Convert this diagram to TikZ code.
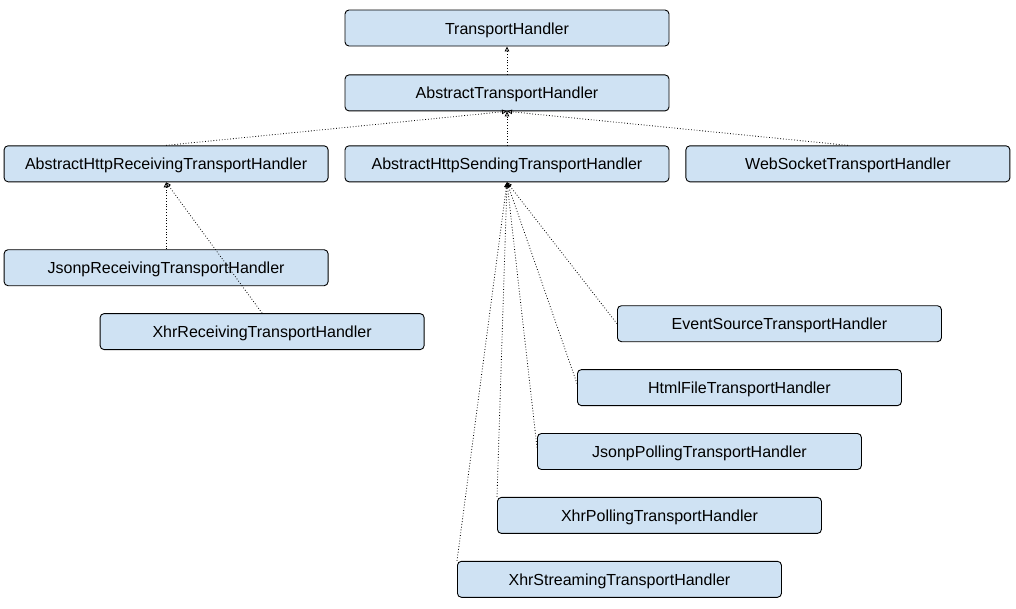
\documentclass[tikz,border=0pt]{standalone}
\usepackage{fontspec}
\setmainfont{Liberation Sans}
\usetikzlibrary{arrows.meta,positioning}

\definecolor{boxblue}{HTML}{CFE2F3}

\begin{document}
\begin{tikzpicture}[
  x=1pt, y=1pt,
  node distance=28pt and 16pt,
  cls/.style={draw, fill=boxblue, rounded corners=4pt, line width=0.9pt,
    minimum width=324pt, minimum height=36pt, text height=14pt, text depth=2pt,
    font=\fontsize{16}{18}\selectfont},
  inh/.style={-{Triangle[open,length=5pt,width=4.5pt]}, dotted, line width=0.8pt}
]
\useasboundingbox (0,0) rectangle (1016,-608);
\node[cls] (th) at (507,-28) {TransportHandler};
\node[cls, below=of th] (ath) {AbstractTransportHandler};
\node[cls, below=34pt of ath] (send) {AbstractHttpSendingTransportHandler};
\node[cls, left=of send] (recv) {AbstractHttpReceivingTransportHandler};
\node[cls, right=of send] (ws) {WebSocketTransportHandler};
% receiving side
\node[cls, below=67pt of recv] (jrecv) {JsonpReceivingTransportHandler};
\node[cls, below=27pt of jrecv.south west, anchor=north west, xshift=96pt] (xrecv) {XhrReceivingTransportHandler};
% sending side, stepping down to the left
\node[cls, below=123pt of send.south, anchor=north west, xshift=110pt] (evsrc) {EventSourceTransportHandler};
\node[cls, below=27pt of evsrc.south west, anchor=north west, xshift=-40pt] (html) {HtmlFileTransportHandler};
\node[cls, below=27pt of html.south west, anchor=north west, xshift=-40pt] (jpoll) {JsonpPollingTransportHandler};
\node[cls, below=27pt of jpoll.south west, anchor=north west, xshift=-40pt] (xpoll) {XhrPollingTransportHandler};
\node[cls, below=27pt of xpoll.south west, anchor=north west, xshift=-40pt] (xstream) {XhrStreamingTransportHandler};
\draw[inh] (ath) -- (th);
\draw[inh] (recv.north) -- (ath.south);
\draw[inh] (send) -- (ath);
\draw[inh] (ws.north) -- (ath.south);
\draw[inh] (jrecv) -- (recv);
\draw[inh] (xrecv.north) -- (recv.south);
\draw[inh] (evsrc.west) -- (send.south);
\draw[inh] ([yshift=4pt]html.west) -- (send.south);
\draw[inh] ([yshift=4pt]jpoll.west) -- (send.south);
\draw[inh] (xpoll.north west) -- (send.south);
\draw[inh] (xstream.north west) -- (send.south);
\end{tikzpicture}
\end{document}
